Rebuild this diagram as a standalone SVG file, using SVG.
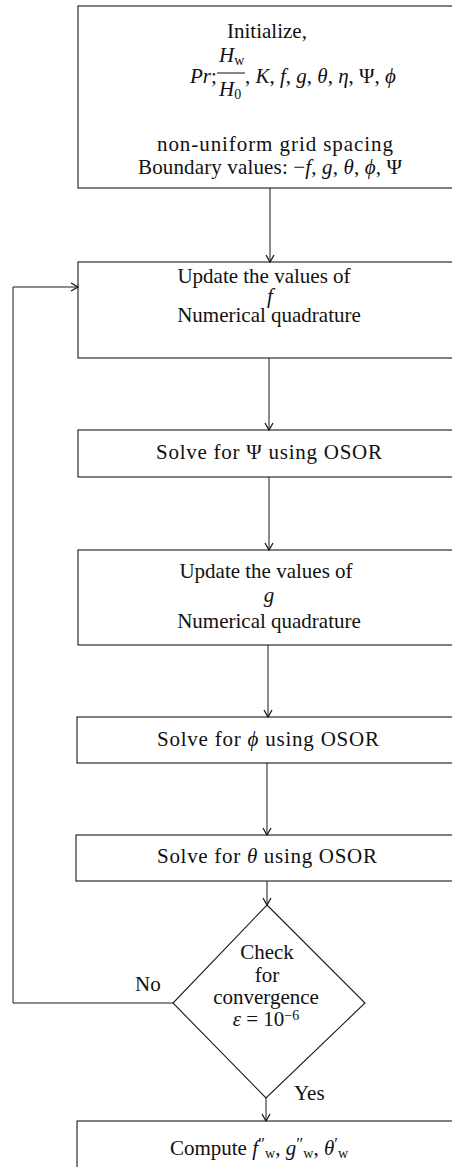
<svg xmlns="http://www.w3.org/2000/svg" width="452" height="1167" viewBox="0 0 452 1167">
  <style>
    .box { fill: none; stroke: #1a1a1a; stroke-width: 1.1; }
    .wire { fill: none; stroke: #1a1a1a; stroke-width: 1; }
    text { font-family: "Liberation Serif", "Times New Roman", serif; font-size: 21px; fill: #111; }
    .c { text-anchor: middle; }
    .i { font-style: italic; }
    .sub { font-size: 14px; }
  </style>
  <defs>
    <marker id="arrow" viewBox="-8 -5 9 10" refX="0" refY="0" markerWidth="9" markerHeight="10" markerUnits="userSpaceOnUse" orient="auto">
      <path d="M-7,-4 L0,0 L-7,4" fill="none" stroke="#1a1a1a" stroke-width="1.3"/>
    </marker>
  </defs>

  <!-- start: parameters, grid and boundary values -->
  <g id="init">
    <rect class="box" x="78" y="6" width="400" height="182"/>
    <text class="c" x="267" y="38">Initialize,</text>
    <text x="190" y="83"><tspan class="i">Pr</tspan>;</text>
    <text x="219" y="62"><tspan class="i">H</tspan><tspan class="sub" dy="3">w</tspan></text>
    <line x1="217" y1="73" x2="245" y2="73" stroke="#111" stroke-width="1"/>
    <text x="219" y="96"><tspan class="i">H</tspan><tspan class="sub" dy="3">0</tspan></text>
    <text x="245" y="83">, <tspan class="i">K</tspan>, <tspan class="i">f</tspan>, <tspan class="i">g</tspan>, <tspan class="i">θ</tspan>, <tspan class="i">η</tspan>, Ψ, <tspan class="i">ϕ</tspan></text>
    <text class="c" x="275" y="151" textLength="236" lengthAdjust="spacing">non-uniform grid spacing</text>
    <text class="c" x="270" y="174" textLength="264" lengthAdjust="spacing">Boundary values: −<tspan class="i">f</tspan>, <tspan class="i">g</tspan>, <tspan class="i">θ</tspan>, <tspan class="i">ϕ</tspan>, Ψ</text>
  </g>

  <g id="update-f">
    <rect class="box" x="78" y="262" width="400" height="96"/>
    <text class="c" x="264" y="283">Update the values of</text>
    <text class="c i" x="270" y="303">f</text>
    <text class="c" x="269" y="322">Numerical quadrature</text>
  </g>

  <g id="solve-psi">
    <rect class="box" x="78" y="430" width="400" height="47"/>
    <text class="c" x="269" y="459" textLength="226" lengthAdjust="spacing">Solve for Ψ using OSOR</text>
  </g>

  <g id="update-g">
    <rect class="box" x="78" y="550" width="400" height="95"/>
    <text class="c" x="266" y="578">Update the values of</text>
    <text class="c i" x="269" y="602">g</text>
    <text class="c" x="269" y="628">Numerical quadrature</text>
  </g>

  <g id="solve-phi">
    <rect class="box" x="77" y="717" width="400" height="46"/>
    <text class="c" x="268" y="746" textLength="222" lengthAdjust="spacing">Solve for <tspan class="i">ϕ</tspan> using OSOR</text>
  </g>

  <g id="solve-theta">
    <rect class="box" x="76" y="835" width="400" height="46"/>
    <text class="c" x="267" y="863" textLength="220" lengthAdjust="spacing">Solve for <tspan class="i">θ</tspan> using OSOR</text>
  </g>

  <g id="check">
    <polygon class="box" points="267,905 365,1003 266,1098 173,1003"/>
    <text class="c" x="267" y="959">Check</text>
    <text class="c" x="267" y="982">for</text>
    <text class="c" x="266" y="1004">convergence</text>
    <text class="c" x="266" y="1026"><tspan class="i">ε</tspan> = 10<tspan class="sub" dy="-6">−6</tspan></text>
  </g>

  <g id="compute">
    <rect class="box" x="77" y="1121" width="400" height="80"/>
    <text class="c" x="259" y="1155">Compute <tspan class="i">f</tspan><tspan font-size="17" dy="-6">″</tspan><tspan class="sub" dy="9">w</tspan><tspan dy="-3">, </tspan><tspan class="i">g</tspan><tspan font-size="17" dy="-6">″</tspan><tspan class="sub" dy="9">w</tspan><tspan dy="-3">, </tspan><tspan class="i">θ</tspan><tspan font-size="17" dy="-6">′</tspan><tspan class="sub" dy="9">w</tspan></text>
  </g>

  <g id="connectors">
    <line class="wire" x1="270" y1="188" x2="270" y2="262" marker-end="url(#arrow)"/>
    <line class="wire" x1="269" y1="358" x2="269" y2="430" marker-end="url(#arrow)"/>
    <line class="wire" x1="269" y1="477" x2="269" y2="550" marker-end="url(#arrow)"/>
    <line class="wire" x1="268" y1="645" x2="268" y2="717" marker-end="url(#arrow)"/>
    <line class="wire" x1="267" y1="763" x2="267" y2="835" marker-end="url(#arrow)"/>
    <line class="wire" x1="267" y1="881" x2="267" y2="905" marker-end="url(#arrow)"/>
    <polyline class="wire" points="173,1003 13,1003 13,287 78,287" marker-end="url(#arrow)"/>
    <line class="wire" x1="266" y1="1098" x2="266" y2="1121" marker-end="url(#arrow)"/>
    <text x="135" y="991">No</text>
    <text x="294" y="1100">Yes</text>
  </g>
</svg>
